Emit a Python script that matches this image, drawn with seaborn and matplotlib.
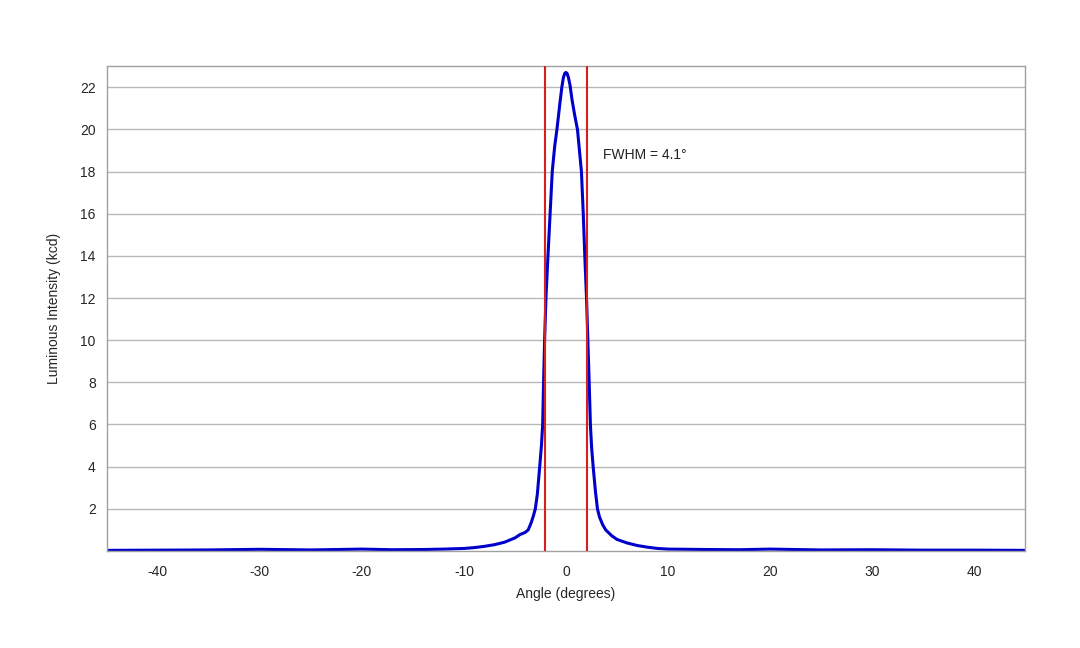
import matplotlib
matplotlib.use("Agg")
import matplotlib.pyplot as plt
import seaborn as sns
import pandas as pd

angle = [-45, -40, -35, -30, -25, -20, -17, -14, -12, -10, -9, -8, -7, -6, -5, -4.5, -4, -3.7, -3.4, -3.2, -3.0, -2.8,
         -2.57, -2.4, -2.28, -2.19, -2.09, -1.96, -1.76, -1.55, -1.34, -1.1, -0.88, -0.6, -0.4, -0.25, -0.12, 0.0,
         0.12, 0.25, 0.4, 0.6, 0.85, 1.13, 1.52, 1.7, 1.85, 2.02, 2.15, 2.28, 2.4, 2.52, 2.67, 2.9, 3.09, 3.3, 3.6, 3.9,
         4.5, 5, 6, 7, 8, 9, 10, 12, 14, 17, 20, 25, 30, 35, 40, 45]
intensity = [0.03, 0.04, 0.05, 0.08, 0.05, 0.09, 0.06, 0.07, 0.09, 0.12, 0.16, 0.22, 0.3, 0.42, 0.62, 0.78, 0.88, 1.0, 1.35, 1.65, 2.0, 2.7,
             4, 5.0, 6, 8, 10, 12, 14, 16, 18, 19.2, 20, 21.2, 22.0, 22.45, 22.65, 22.7,
             22.65, 22.45, 22.1, 21.4, 20.7, 20, 18, 16, 14, 12, 10, 8, 6, 4.9, 4, 2.8, 2, 1.6, 1.25, 1.0,
             0.72, 0.55, 0.38, 0.26, 0.18, 0.12, 0.09, 0.08, 0.07, 0.06, 0.09, 0.05, 0.06, 0.04, 0.04, 0.03]
fwhm_bounds = [-2.05, 2.05]
fwhm_label = "FWHM = 4.1°"

sns.set_theme(style="white")
plt.rcParams['font.family'] = ['Liberation Sans', 'DejaVu Sans']
plt.rcParams['axes.unicode_minus'] = False

fig = plt.figure(figsize=(10.8, 6.48), dpi=100)
ax = fig.add_axes([0.099, 0.1497, 0.850, 0.7483])
df = pd.DataFrame({"angle": angle, "intensity": intensity})
sns.lineplot(data=df, x="angle", y="intensity", color="#0000cc", linewidth=2.2, ax=ax, sort=False)
for b in fwhm_bounds:
    ax.axvline(b, color="#d62020", linewidth=1.5, zorder=3)
ax.text(3.6, 18.8, fwhm_label, fontsize=10, va="center", ha="left", color="#222222")

ax.set_xlim(-45, 45)
ax.set_ylim(0, 23)
ax.set_xticks(range(-40, 41, 10))
ax.set_yticks(range(2, 23, 2))
ax.yaxis.grid(True, color="#b8b8b8", linewidth=1)
ax.xaxis.grid(False)
for s in ax.spines.values():
    s.set_color("#a0a0a0")
    s.set_linewidth(1)
ax.tick_params(axis="x", direction="out", length=4, color="#a0a0a0", labelsize=10, pad=6)
ax.tick_params(axis="y", length=0, labelsize=10, pad=8)
ax.set_xlabel("Angle (degrees)", fontsize=10, labelpad=6)
ax.set_ylabel("Luminous Intensity (kcd)", fontsize=10, labelpad=14)
fig.savefig("out.png", dpi=100, facecolor="white")
